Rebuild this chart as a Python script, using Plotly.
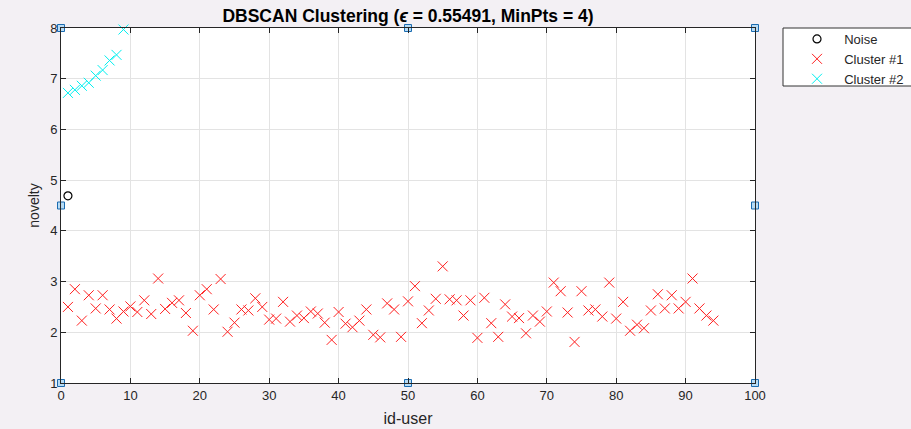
import plotly.graph_objects as go

# ---- data ----
noise_id = [1]
noise_val = [4.69]

c1_id = list(range(1, 95))
c1_val = [2.50, 2.85, 2.23, 2.73, 2.47, 2.73, 2.45, 2.27, 2.41, 2.51,
          2.40, 2.63, 2.36, 3.06, 2.46, 2.58, 2.63, 2.38, 2.03, 2.73,
          2.85, 2.45, 3.05, 2.01, 2.19, 2.45, 2.43, 2.67, 2.50, 2.25,
          2.27, 2.60, 2.21, 2.33, 2.28, 2.41, 2.37, 2.19, 1.85, 2.40,
          2.17, 2.10, 2.23, 2.45, 1.95, 1.90, 2.57, 2.45, 1.91, 2.61,
          2.91, 2.18, 2.43, 2.66, 3.30, 2.65, 2.63, 2.33, 2.63, 1.89,
          2.68, 2.18, 1.91, 2.55, 2.31, 2.28, 1.98, 2.33, 2.21, 2.41,
          2.98, 2.81, 2.39, 1.81, 2.81, 2.43, 2.45, 2.31, 2.98, 2.27,
          2.60, 2.03, 2.15, 2.08, 2.43, 2.75, 2.47, 2.73, 2.47, 2.60,
          3.06, 2.47, 2.33, 2.23]

c2_id = list(range(1, 10))
c2_val = [6.72, 6.78, 6.86, 6.92, 7.06, 7.17, 7.36, 7.47, 7.97]

series_names = ["Noise", "Cluster #1", "Cluster #2"]

x_range = [0, 100]
y_range = [1, 8]

FONT = "Liberation Sans, Arial, Helvetica, sans-serif"
AX = "#262626"
W, H = 911, 429
ML, MR, MT, MB = 61, 156, 28, 46
PW, PH = W - ML - MR, H - MT - MB


def px_x(p):
    return (p - ML) / PW


def px_y(p):
    return 1 - (p - MT) / PH


pad = "\u00a0\u00a0"
fig = go.Figure()

fig.add_trace(go.Scatter(
    x=noise_id, y=noise_val, mode="markers", name=pad + series_names[0],
    marker=dict(symbol="circle-open", size=8, color="black", line=dict(width=1.2, color="black")),
    cliponaxis=False))
fig.add_trace(go.Scatter(
    x=c1_id, y=c1_val, mode="markers", name=pad + series_names[1],
    marker=dict(symbol="x-thin", size=10, color="#ff0000", line=dict(width=1, color="#ff2020")),
    cliponaxis=False))
fig.add_trace(go.Scatter(
    x=c2_id, y=c2_val, mode="markers", name=pad + series_names[2],
    marker=dict(symbol="x-thin", size=10, color="#00ffff", line=dict(width=1, color="#00f0f0")),
    cliponaxis=False))

# selection handles (MATLAB edit-mode) at corners and mid-edges of axes
xm = (x_range[0] + x_range[1]) / 2
ym = (y_range[0] + y_range[1]) / 2
hx = [x_range[0], xm, x_range[1], x_range[0], x_range[1], x_range[0], xm, x_range[1]]
hy = [y_range[1], y_range[1], y_range[1], ym, ym, y_range[0], y_range[0], y_range[0]]
fig.add_trace(go.Scatter(
    x=hx, y=hy, mode="markers", showlegend=False, hoverinfo="skip",
    marker=dict(symbol="square", size=7, color="#b8dcf5", line=dict(width=1, color="#1a6bb0")),
    cliponaxis=False))

axis_common = dict(
    showline=True, linecolor=AX, linewidth=1, mirror="ticks",
    ticks="inside", ticklen=5, tickcolor=AX,
    showgrid=True, gridcolor="#e3e3e3", gridwidth=1,
    zeroline=False, tickfont=dict(family=FONT, size=13, color=AX),
)

# legend box (clipped by the right edge, like the reference)
fig.add_shape(type="rect", xref="paper", yref="paper",
              x0=px_x(783), x1=px_x(940), y0=px_y(86), y1=px_y(28),
              fillcolor="white", line=dict(color="#333333", width=1), layer="below")

fig.update_layout(
    width=W, height=H,
    paper_bgcolor="#f3f0f4", plot_bgcolor="white",
    margin=dict(l=ML, r=MR, t=MT, b=MB, autoexpand=False),
    title=dict(text="<b>DBSCAN Clustering (<i>ϵ</i> = 0.55491, MinPts = 4)</b>",
               x=(ML + PW / 2) / W, xanchor="center", y=1 - 16 / H, yanchor="middle",
               font=dict(family=FONT, size=17.5, color="black")),
    xaxis=dict(range=x_range, dtick=10, tick0=0,
               title=dict(text="id-user", font=dict(family=FONT, size=16, color=AX), standoff=11),
               **axis_common),
    yaxis=dict(range=y_range, dtick=1, tick0=1,
               title=dict(text="novelty", font=dict(family=FONT, size=14, color=AX), standoff=7),
               **axis_common),
    legend=dict(x=px_x(797), xanchor="left", y=px_y(24), yanchor="top",
                bgcolor="rgba(0,0,0,0)", borderwidth=0,
                font=dict(family=FONT, size=13, color=AX),
                tracegroupgap=0),
    showlegend=True,
)

fig.write_html("out.html")
